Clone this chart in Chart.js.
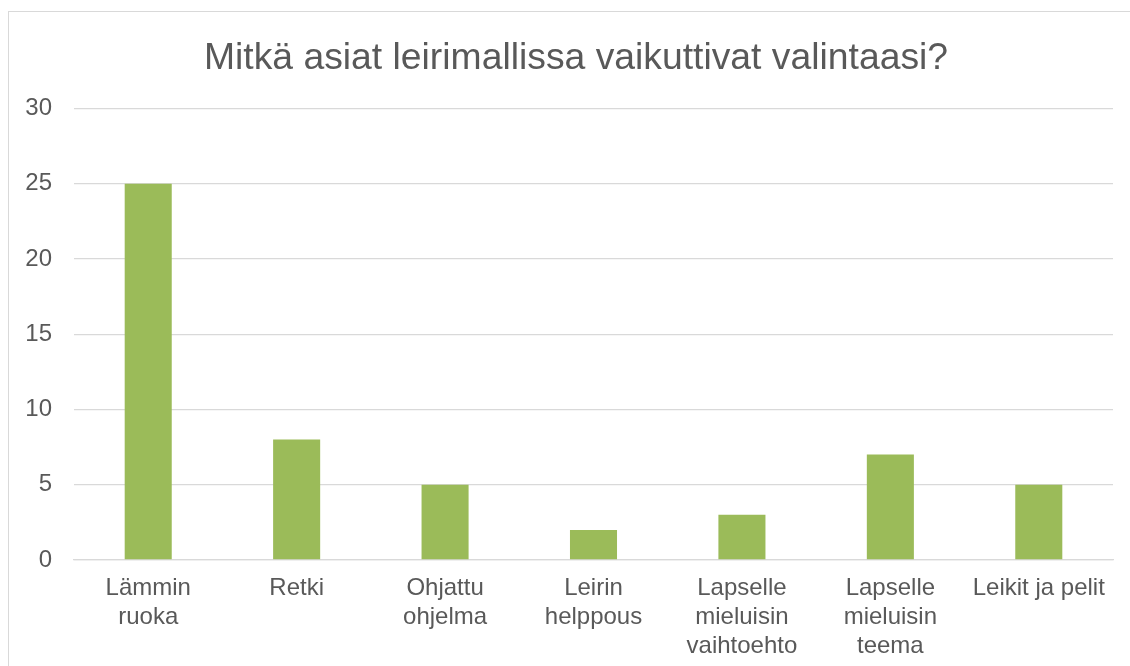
<!DOCTYPE html>
<html>
<head>
<meta charset="utf-8">
<script src="https://cdn.jsdelivr.net/npm/chart.js@4"></script>
<style>
  html, body { margin: 0; padding: 0; background: #fff; overflow: hidden; }
  #wrap { position: relative; width: 1130px; height: 666px; }
  #frame { position: absolute; left: 8px; top: 11px; width: 1200px; height: 800px; border: 1px solid #d9d9d9; box-sizing: border-box; pointer-events: none; }
  canvas { position: absolute; left: 0; top: 0; }
</style>
</head>
<body>
<div id="wrap">
  <div id="frame"></div>
  <canvas id="c" width="1130" height="666"></canvas>
</div>
<script>
const titleText = "Mitkä asiat leirimallissa vaikuttivat valintaasi?";
const categories = [
  ["Lämmin", "ruoka"],
  ["Retki"],
  ["Ohjattu", "ohjelma"],
  ["Leirin", "helppous"],
  ["Lapselle", "mieluisin", "vaihtoehto"],
  ["Lapselle", "mieluisin", "teema"],
  ["Leikit ja pelit"]
];
const values = [25, 8, 5, 2, 3, 7, 5];
const yTicks = [0, 5, 10, 15, 20, 25, 30];

const textColor = "#595959";
const gridColor = "#d9d9d9";
const font = "'Liberation Sans', Arial, sans-serif";

new Chart(document.getElementById("c"), {
  type: "bar",
  data: {
    labels: categories,
    datasets: [{
      data: values,
      backgroundColor: "#9BBB59",
      borderWidth: 0,
      barPercentage: 0.317,
      categoryPercentage: 1
    }]
  },
  options: {
    responsive: false,
    animation: false,
    devicePixelRatio: 1,
    layout: { padding: { left: 22, right: 0, top: 0, bottom: 0 } },
    plugins: {
      legend: { display: false },
      tooltip: { enabled: false },
      title: {
        display: true,
        text: titleText,
        color: textColor,
        font: { family: font, size: 37.3, weight: "normal" },
        padding: { top: 36, bottom: 27.6 }
      }
    },
    scales: {
      y: {
        min: yTicks[0],
        max: yTicks[yTicks.length - 1],
        afterBuildTicks: (s) => { s.ticks = yTicks.map(v => ({ value: v })); },
        afterFit: (s) => { s.width = 52; },
        ticks: {
          color: textColor,
          font: { family: font, size: 24 },
          padding: 22
        },
        grid: { color: gridColor, lineWidth: 1.3, drawTicks: false },
        border: { display: false }
      },
      yRight: {
        type: "linear",
        position: "right",
        display: true,
        afterFit: (s) => { s.width = 17; },
        ticks: { display: false },
        grid: { display: false, drawTicks: false },
        border: { display: false }
      },
      x: {
        afterFit: (s) => { s.height = 106; },
        ticks: {
          color: textColor,
          font: { family: font, size: 24, lineHeight: 1.2 },
          padding: 14,
          maxRotation: 0,
          autoSkip: false
        },
        grid: { display: false, drawTicks: false },
        border: { display: true, color: gridColor, width: 1.3 }
      }
    }
  }
});
</script>
</body>
</html>
